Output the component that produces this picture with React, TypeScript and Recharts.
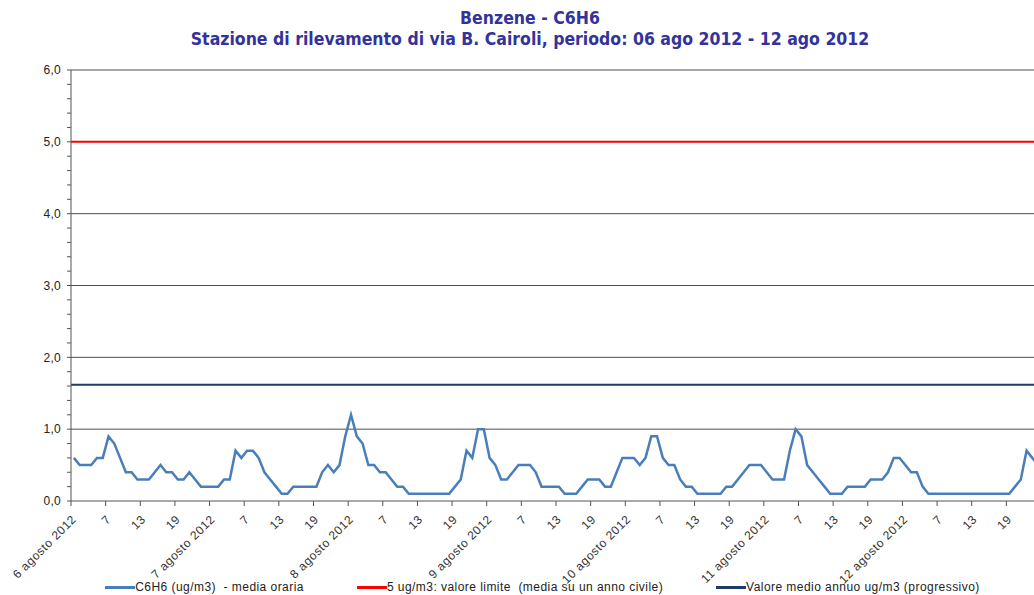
import { LineChart, Line, XAxis, YAxis, ReferenceLine, Legend } from "recharts"

// date labels (first hour of each day) and hour labels in between
const days = [
  "6 agosto 2012",
  "7 agosto 2012",
  "8 agosto 2012",
  "9 agosto 2012",
  "10 agosto 2012",
  "11 agosto 2012",
  "12 agosto 2012",
]
const hourLabels = ["7", "13", "19"]

// hourly means, ug/m3, one array per day (hours 1..24)
const day6 = [0.6, 0.5, 0.5, 0.5, 0.6, 0.6, 0.9, 0.8, 0.6, 0.4, 0.4, 0.3, 0.3, 0.3, 0.4, 0.5, 0.4, 0.4, 0.3, 0.3, 0.4, 0.3, 0.2, 0.2]
const day7 = [0.2, 0.2, 0.3, 0.3, 0.7, 0.6, 0.7, 0.7, 0.6, 0.4, 0.3, 0.2, 0.1, 0.1, 0.2, 0.2, 0.2, 0.2, 0.2, 0.4, 0.5, 0.4, 0.5, 0.9]
const day8 = [1.2, 0.9, 0.8, 0.5, 0.5, 0.4, 0.4, 0.3, 0.2, 0.2, 0.1, 0.1, 0.1, 0.1, 0.1, 0.1, 0.1, 0.1, 0.2, 0.3, 0.7, 0.6, 1.0, 1.0]
const day9 = [0.6, 0.5, 0.3, 0.3, 0.4, 0.5, 0.5, 0.5, 0.4, 0.2, 0.2, 0.2, 0.2, 0.1, 0.1, 0.1, 0.2, 0.3, 0.3, 0.3, 0.2, 0.2, 0.4, 0.6]
const day10 = [0.6, 0.6, 0.5, 0.6, 0.9, 0.9, 0.6, 0.5, 0.5, 0.3, 0.2, 0.2, 0.1, 0.1, 0.1, 0.1, 0.1, 0.2, 0.2, 0.3, 0.4, 0.5, 0.5, 0.5]
const day11 = [0.4, 0.3, 0.3, 0.3, 0.7, 1.0, 0.9, 0.5, 0.4, 0.3, 0.2, 0.1, 0.1, 0.1, 0.2, 0.2, 0.2, 0.2, 0.3, 0.3, 0.3, 0.4, 0.6, 0.6]
const day12 = [0.5, 0.4, 0.4, 0.2, 0.1, 0.1, 0.1, 0.1, 0.1, 0.1, 0.1, 0.1, 0.1, 0.1, 0.1, 0.1, 0.1, 0.1, 0.1, 0.2, 0.3, 0.7, 0.6, 0.5]

const limitValue = 5
const annualMean = 1.62

const yTicks = [0, 0.2, 0.4, 0.6, 0.8, 1, 1.2, 1.4, 1.6, 1.8, 2, 2.2, 2.4, 2.6, 2.8, 3, 3.2, 3.4, 3.6, 3.8, 4, 4.2, 4.4, 4.6, 4.8, 5, 5.2, 5.4, 5.6, 5.8, 6]
const gridValues = [1, 2, 3, 4, 6]

const legendItems = [
  { label: "C6H6 (ug/m3)  - media oraria", color: "#4A7EBB" },
  { label: "5 ug/m3: valore limite  (media su un anno civile)", color: "#FF0000" },
  { label: "Valore medio annuo ug/m3 (progressivo)", color: "#1F3B66" },
]

const hourly = [...day6, ...day7, ...day8, ...day9, ...day10, ...day11, ...day12].map((v, i) => ({
  hour: i + 0.5,
  value: v,
}))

const xTicks = [...days.flatMap((_, d) => [d * 24, d * 24 + 6, d * 24 + 12, d * 24 + 18]), days.length * 24]

const xLabel = (t: number) => (t % 24 === 0 ? days[t / 24] ?? "" : hourLabels[(t % 24) / 6 - 1])

const font = "'Liberation Sans', Arial, sans-serif"

const XTick = ({ x, y, payload }: any) => {
  const ax = x + 6
  const ay = y + 12
  return (
    <text
      x={ax}
      y={ay}
      transform={`rotate(-45 ${ax} ${ay})`}
      textAnchor="end"
      fontSize={12}
      letterSpacing={0.6}
      fontFamily={font}
      fill="#333"
    >
      {xLabel(payload.value)}
    </text>
  )
}

const renderLegend = () => (
  <div
    style={{
      display: "flex",
      justifyContent: "center",
      gap: 53,
      paddingLeft: 36,
      paddingTop: 9,
      fontFamily: font,
      fontSize: 12,
      letterSpacing: 0.45,
      color: "#222",
      lineHeight: "14px",
    }}
  >
    {legendItems.map((item) => (
      <div key={item.label} style={{ display: "flex", alignItems: "center" }}>
        <span style={{ display: "inline-block", width: 30, height: 3, background: item.color }} />
        <span style={{ whiteSpace: "pre" }}>{item.label}</span>
      </div>
    ))}
  </div>
)

export default function App() {
  return (
    <div style={{ position: "fixed", left: 0, top: 0, width: 1034, height: 595, overflow: "hidden", background: "#fff" }}>
      <div style={{ position: "absolute", left: 8, top: 8, width: 1060 }}>
        <div
          style={{
            height: 42,
            paddingRight: 16,
            textAlign: "center",
            fontFamily: "'DejaVu Sans Condensed', 'DejaVu Sans', sans-serif",
            fontWeight: "bold",
            fontSize: 17.5,
            lineHeight: "21px",
            color: "#333399",
          }}
        >
          <div>Benzene - C6H6</div>
          <div>Stazione di rilevamento di via B. Cairoli, periodo: 06 ago 2012 - 12 ago 2012</div>
        </div>
        <LineChart width={1060} height={545} data={hourly} margin={{ top: 20, right: 27, left: 0, bottom: 0 }}>
          <XAxis
            dataKey="hour"
            type="number"
            domain={[0, 168]}
            ticks={xTicks}
            interval={0}
            tick={<XTick />}
            tickSize={5}
            height={70}
            stroke="#555"
            allowDecimals={false}
          />
          <YAxis
            type="number"
            domain={[0, 6]}
            ticks={yTicks}
            interval={0}
            width={63}
            tickSize={4}
            tickMargin={6}
            stroke="#555"
            tick={{ fontSize: 12, fontFamily: font, fill: "#222", letterSpacing: 0.3 }}
            tickFormatter={(v: number) => (Number.isInteger(v) ? v.toFixed(1).replace(".", ",") : "")}
          />
          {gridValues.map((g) => (
            <ReferenceLine key={g} y={g} stroke="#4d4d4d" strokeWidth={1} />
          ))}
          <ReferenceLine y={limitValue} stroke="#FF0000" strokeWidth={2} />
          <ReferenceLine y={annualMean} stroke="#1F3B66" strokeWidth={2} />
          <Line
            type="linear"
            dataKey="value"
            stroke="#4A7EBB"
            strokeWidth={2.5}
            dot={false}
            isAnimationActive={false}
          />
          <Legend verticalAlign="bottom" height={24} content={renderLegend} />
        </LineChart>
      </div>
    </div>
  )
}
